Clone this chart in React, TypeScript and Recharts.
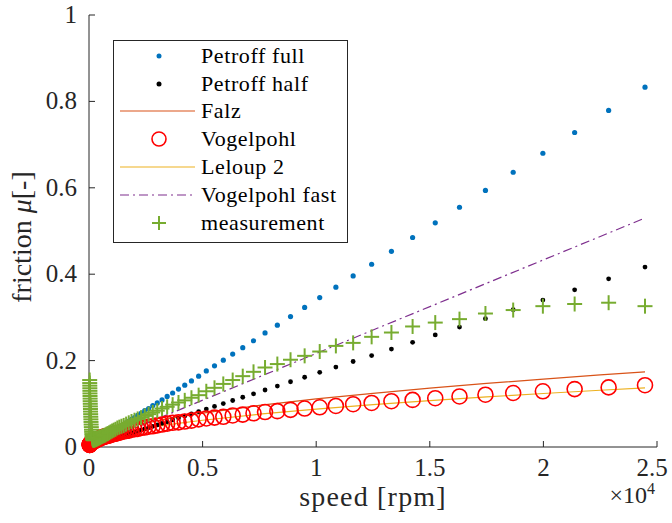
import { ComposedChart, Scatter, Line, XAxis, YAxis, Legend } from 'recharts';

// shared speed grid of the point series [rpm]
const speeds = [
  30, 32, 35, 37, 40, 42, 45, 49, 52, 56, 60, 64, 68, 73, 78, 83, 89, 95, 102, 109,
  117, 125, 134, 143, 153, 164, 175, 188, 201, 215, 230, 246, 263, 281, 301, 322, 345, 369, 395, 422,
  452, 484, 517, 554, 592, 634, 678, 726, 776, 831, 889, 951, 1018, 1089, 1165, 1247, 1334, 1428, 1527, 1634,
  1749, 1871, 2002, 2142, 2292, 2453, 2624, 2808, 3005, 3215, 3440, 3681, 3939, 4214, 4509, 4825, 5163, 5524, 5911, 6324,
  6767, 7241, 7748, 8290, 8870, 9491, 10155, 10866, 11626, 12440, 13311, 14243, 15240, 16307, 17449, 18670, 19977, 21375, 22871, 24472,
];

const petroffFull = [
  0.001, 0.001, 0.001, 0.001, 0.001, 0.001, 0.002, 0.002, 0.002, 0.002, 0.002, 0.002, 0.002, 0.002, 0.003, 0.003, 0.003, 0.003, 0.003, 0.004,
  0.004, 0.004, 0.005, 0.005, 0.005, 0.006, 0.006, 0.006, 0.007, 0.007, 0.008, 0.008, 0.009, 0.01, 0.01, 0.011, 0.012, 0.013, 0.013, 0.014,
  0.015, 0.016, 0.018, 0.019, 0.02, 0.022, 0.023, 0.025, 0.026, 0.028, 0.03, 0.032, 0.035, 0.037, 0.04, 0.042, 0.045, 0.049, 0.052, 0.056,
  0.06, 0.064, 0.068, 0.073, 0.078, 0.084, 0.089, 0.096, 0.102, 0.109, 0.117, 0.125, 0.134, 0.143, 0.153, 0.164, 0.176, 0.188, 0.201, 0.215,
  0.23, 0.246, 0.264, 0.282, 0.302, 0.323, 0.346, 0.37, 0.396, 0.423, 0.453, 0.485, 0.519, 0.555, 0.594, 0.636, 0.68, 0.728, 0.779, 0.833,
];

const petroffHalf = [
  0.0005, 0.0005, 0.0006, 0.0006, 0.0007, 0.0007, 0.0008, 0.0008, 0.0009, 0.001, 0.001, 0.0011, 0.0012, 0.0012, 0.0013, 0.0014, 0.0015, 0.0016, 0.0017, 0.0019,
  0.002, 0.0021, 0.0023, 0.0024, 0.0026, 0.0028, 0.003, 0.0032, 0.0034, 0.0037, 0.0039, 0.0042, 0.0045, 0.0048, 0.0051, 0.0055, 0.0059, 0.0063, 0.0067, 0.0072,
  0.0077, 0.0082, 0.0088, 0.0094, 0.0101, 0.0108, 0.0115, 0.0124, 0.0132, 0.0141, 0.0151, 0.0162, 0.0173, 0.0185, 0.0198, 0.0212, 0.0227, 0.0243, 0.026, 0.0278,
  0.0298, 0.0318, 0.0341, 0.0365, 0.039, 0.0418, 0.0447, 0.0478, 0.0511, 0.0547, 0.0585, 0.0627, 0.067, 0.0717, 0.0767, 0.0821, 0.0879, 0.094, 0.1006, 0.1076,
  0.1152, 0.1232, 0.1319, 0.1411, 0.151, 0.1615, 0.1728, 0.1849, 0.1979, 0.2117, 0.2266, 0.2424, 0.2594, 0.2775, 0.297, 0.3178, 0.34, 0.3638, 0.3893, 0.4165,
];

const vogelpohl = [
  0.005, 0.005, 0.005, 0.006, 0.006, 0.006, 0.006, 0.006, 0.007, 0.007, 0.007, 0.007, 0.008, 0.008, 0.008, 0.008, 0.009, 0.009, 0.009, 0.01,
  0.01, 0.01, 0.011, 0.011, 0.011, 0.012, 0.012, 0.013, 0.013, 0.013, 0.014, 0.014, 0.015, 0.015, 0.016, 0.016, 0.017, 0.018, 0.018, 0.019,
  0.019, 0.02, 0.021, 0.022, 0.022, 0.023, 0.024, 0.025, 0.025, 0.026, 0.027, 0.028, 0.029, 0.03, 0.031, 0.032, 0.033, 0.035, 0.036, 0.037,
  0.038, 0.04, 0.041, 0.042, 0.044, 0.045, 0.047, 0.048, 0.05, 0.052, 0.054, 0.056, 0.057, 0.059, 0.061, 0.064, 0.066, 0.068, 0.07, 0.073,
  0.075, 0.078, 0.081, 0.083, 0.086, 0.089, 0.092, 0.095, 0.099, 0.102, 0.106, 0.109, 0.113, 0.117, 0.121, 0.125, 0.129, 0.134, 0.138, 0.143,
];

const measurement = [
  0.155, 0.148, 0.142, 0.136, 0.13, 0.124, 0.118, 0.112, 0.106, 0.1, 0.094, 0.088, 0.082, 0.076, 0.07, 0.064, 0.058, 0.052, 0.046, 0.04,
  0.035, 0.03, 0.026, 0.023, 0.02, 0.018, 0.017, 0.016, 0.016, 0.016, 0.016, 0.017, 0.017, 0.017, 0.018, 0.018, 0.019, 0.019, 0.02, 0.021,
  0.021, 0.022, 0.023, 0.024, 0.025, 0.026, 0.027, 0.028, 0.03, 0.031, 0.033, 0.035, 0.037, 0.039, 0.041, 0.044, 0.046, 0.048, 0.05, 0.053,
  0.056, 0.059, 0.062, 0.065, 0.068, 0.072, 0.076, 0.08, 0.084, 0.089, 0.093, 0.098, 0.103, 0.108, 0.114, 0.12, 0.129, 0.137, 0.146, 0.155,
  0.164, 0.174, 0.184, 0.192, 0.202, 0.211, 0.221, 0.234, 0.241, 0.255, 0.265, 0.279, 0.288, 0.296, 0.309, 0.317, 0.326, 0.331, 0.334, 0.326,
];

// continuous models
const curveSpeeds = [0, 50, 200, 500, 1000, 2000, 3500, 5000, 7500, 10000, 12500, 15000, 17500, 20000, 22500, 24472];
const falz = [0, 0.0079, 0.0157, 0.0249, 0.0352, 0.0497, 0.0658, 0.0786, 0.0963, 0.1112, 0.1243, 0.1362, 0.1471, 0.1573, 0.1668, 0.174];
const leloup = [0, 0.0062, 0.0124, 0.0196, 0.0277, 0.0392, 0.0518, 0.0619, 0.0759, 0.0876, 0.0979, 0.1073, 0.1159, 0.1239, 0.1314, 0.137];
const fastSpeeds = [0, 24472];
const vogelpohlFast = [0, 0.53];

const xTicks = [0, 5000, 10000, 15000, 20000, 25000];
const yTicks = [0, 0.2, 0.4, 0.6, 0.8, 1];

const AXIS = '#262626';
const FONT = 'Liberation Serif';

const zip = (xs: number[], ys: number[]) => xs.map((x, i) => ({ x, y: ys[i] }));

const fullData = zip(speeds, petroffFull);
const halfData = zip(speeds, petroffHalf);
const vogelData = zip(speeds, vogelpohl);
const measData = zip(speeds, measurement);
const falzData = zip(curveSpeeds, falz);
const leloupData = zip(curveSpeeds, leloup);
const fastData = zip(fastSpeeds, vogelpohlFast);

const dot = (color: string, r: number) => (p: any) => <circle cx={p.cx} cy={p.cy} r={r} fill={color} />;
const ring = (p: any) => <circle cx={p.cx} cy={p.cy} r={7.5} fill="none" stroke="#FF0000" strokeWidth={1.6} />;
const plus = (p: any) => (
  <g stroke="#77AC30" strokeWidth={2}>
    <line x1={p.cx - 7.5} y1={p.cy} x2={p.cx + 7.5} y2={p.cy} />
    <line x1={p.cx} y1={p.cy - 7.5} x2={p.cx} y2={p.cy + 7.5} />
  </g>
);

const XTick = (p: any) => (
  <text x={p.x} y={p.y + 17} textAnchor="middle" fontFamily={FONT} fontSize={25} fill={AXIS}>
    {String(p.payload.value / 10000)}
  </text>
);
const YTick = (p: any) => (
  <text x={p.x} y={p.y + 8} textAnchor="end" fontFamily={FONT} fontSize={25} fill={AXIS}>
    {String(p.payload.value)}
  </text>
);

const legendItems = [
  { name: 'Petroff full', kind: 'dot', color: '#0072BD' },
  { name: 'Petroff half', kind: 'dot', color: '#000000' },
  { name: 'Falz', kind: 'line', color: '#D95319' },
  { name: 'Vogelpohl', kind: 'ring', color: '#FF0000' },
  { name: 'Leloup 2', kind: 'line', color: '#EDB120' },
  { name: 'Vogelpohl fast', kind: 'dashdot', color: '#7E2F8E' },
  { name: 'measurement', kind: 'plus', color: '#77AC30' },
];

function LegendBox() {
  return (
    <div style={{ border: `1px solid ${AXIS}`, background: '#fff', padding: '1px 0 5px 0', width: 233, fontFamily: FONT, fontSize: 22, letterSpacing: 0.6, color: '#000' }}>
      {legendItems.map((it) => (
        <div key={it.name} style={{ display: 'flex', alignItems: 'center', height: 27.8, whiteSpace: 'nowrap' }}>
          <svg width={87} height={20} style={{ flex: 'none' }}>
            {it.kind === 'dot' && <circle cx={45} cy={10} r={2.5} fill={it.color} />}
            {it.kind === 'line' && <line x1={6} y1={10} x2={81} y2={10} stroke={it.color} strokeWidth={1.2} />}
            {it.kind === 'dashdot' && <line x1={6} y1={10} x2={81} y2={10} stroke={it.color} strokeWidth={1.2} strokeDasharray="9 4 2 4" />}
            {it.kind === 'ring' && <circle cx={45} cy={10} r={7} fill="none" stroke={it.color} strokeWidth={1.6} />}
            {it.kind === 'plus' && (
              <g stroke={it.color} strokeWidth={2}>
                <line x1={38} y1={10} x2={52} y2={10} />
                <line x1={45} y1={3} x2={45} y2={17} />
              </g>
            )}
          </svg>
          <span style={{ fontFamily: FONT }}>{it.name}</span>
        </div>
      ))}
    </div>
  );
}

const XLabel = (props: any) => {
  const vb = props.viewBox;
  const cx = vb.x + vb.width / 2;
  return (
    <g fontFamily={FONT} fill={AXIS}>
      <text x={cx} y={506} textAnchor="middle" fontSize={28} letterSpacing={1.2}>speed [rpm]</text>
      <text x={vb.x + vb.width - 2} y={503} textAnchor="end" fontSize={24}>
        ×10<tspan fontSize={16} dy={-9}>4</tspan>
      </text>
    </g>
  );
};

const YLabel = (props: any) => {
  const vb = props.viewBox;
  const cy = vb.y + vb.height / 2 + 6;
  const x = 31;
  return (
    <text x={x} y={cy} transform={`rotate(-90 ${x} ${cy})`} textAnchor="middle" fontFamily={FONT} fontSize={28} fill={AXIS}>
      friction <tspan fontStyle="italic">μ</tspan>[-]
    </text>
  );
};

export default function App() {
  return (
    <div style={{ position: 'absolute', left: 0, top: 0, width: 672, height: 523, background: '#fff' }}>
      <ComposedChart width={672} height={523} margin={{ top: 15, right: 15, bottom: 0, left: 29 }}>
        <XAxis
          xAxisId="b"
          dataKey="x"
          type="number"
          domain={[0, 25000]}
          ticks={xTicks}
          height={76}
          tickSize={-6}
          tickMargin={18}
          tick={<XTick />}
          stroke={AXIS}
          label={<XLabel />}
        />
        <XAxis xAxisId="t" orientation="top" dataKey="x" type="number" domain={[0, 25000]} ticks={xTicks} height={0} tickSize={-6} tick={false} stroke={AXIS} />
        <YAxis
          yAxisId="l"
          type="number"
          domain={[0, 1]}
          ticks={yTicks}
          width={60}
          tickSize={-6}
          tickMargin={18}
          tick={<YTick />}
          stroke={AXIS}
          label={<YLabel />}
        />
        <YAxis yAxisId="r" orientation="right" type="number" domain={[0, 1]} ticks={yTicks} width={0} tickSize={-6} tick={false} stroke={AXIS} />

        <Scatter xAxisId="b" yAxisId="l" name="Petroff full" data={fullData} dataKey="y" shape={dot('#0072BD', 2.6)} isAnimationActive={false} />
        <Scatter xAxisId="b" yAxisId="l" name="Petroff half" data={halfData} dataKey="y" shape={dot('#000000', 2.4)} isAnimationActive={false} />
        <Line xAxisId="b" yAxisId="l" name="Falz" data={falzData} dataKey="y" type="linear" stroke="#D95319" strokeWidth={1.2} dot={false} activeDot={false} isAnimationActive={false} />
        <Scatter xAxisId="b" yAxisId="l" name="Vogelpohl" data={vogelData} dataKey="y" shape={ring} isAnimationActive={false} />
        <Line xAxisId="b" yAxisId="l" name="Leloup 2" data={leloupData} dataKey="y" type="linear" stroke="#EDB120" strokeWidth={1.2} dot={false} activeDot={false} isAnimationActive={false} />
        <Line xAxisId="b" yAxisId="l" name="Vogelpohl fast" data={fastData} dataKey="y" type="linear" stroke="#7E2F8E" strokeWidth={1.2} strokeDasharray="9 4 2 4" dot={false} activeDot={false} isAnimationActive={false} />
        <Scatter xAxisId="b" yAxisId="l" name="measurement" data={measData} dataKey="y" shape={plus} isAnimationActive={false} />

        <Legend layout="vertical" align="center" verticalAlign="middle" content={() => <LegendBox />} wrapperStyle={{ left: 113, top: 40, width: 'auto' }} />
      </ComposedChart>
    </div>
  );
}
